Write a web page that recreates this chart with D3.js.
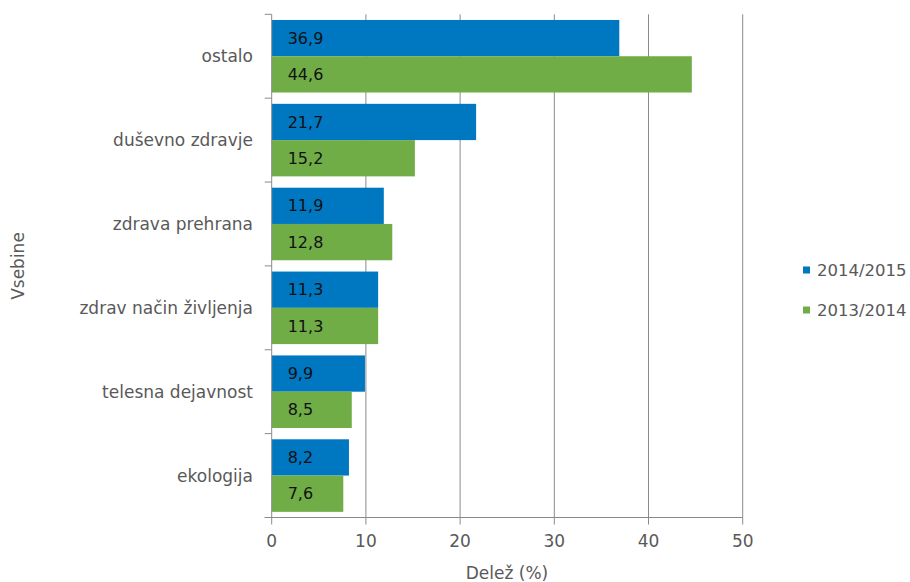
<!DOCTYPE html>
<html><head><meta charset="utf-8">
<script src="https://cdn.jsdelivr.net/npm/d3@7"></script>
<style>body{margin:0;background:#fff;} svg{display:block;font-family:"DejaVu Sans",sans-serif;}</style>
</head><body><svg id="c" width="910" height="582"></svg>
<script>
const categories = ["ostalo","duševno zdravje","zdrava prehrana","zdrav način življenja","telesna dejavnost","ekologija"];
const series = ["2014/2015","2013/2014"];
const values2014_2015 = [36.9,21.7,11.9,11.3,9.9,8.2];
const values2013_2014 = [44.6,15.2,12.8,11.3,8.5,7.6];
const xTicks = [0,10,20,30,40,50];
const colors = ["#0077C1","#70AD47"];
const fmt = v => String(v.toFixed(1)).replace(".", ",");

const svg = d3.select("#c");
const L = 271.7, R = 742.7, T = 14.3, B = 517.5;
const x = d3.scaleLinear().domain([0,50]).range([L,R]);
const y = d3.scaleBand().domain(categories).range([T,B]).paddingInner(0.135).paddingOuter(0.0675);
const ySub = d3.scaleBand().domain(series).range([0,y.bandwidth()]);
const grid = "#8A8A8A";

// gridlines
svg.append("g").selectAll("line").data(xTicks.slice(1)).join("line")
  .attr("x1",d=>x(d)).attr("x2",d=>x(d)).attr("y1",T).attr("y2",B)
  .attr("stroke",grid).attr("stroke-width",1);

const data = [values2014_2015, values2013_2014];
categories.forEach((c,i)=>{
  series.forEach((s,j)=>{
    const v = data[j][i];
    svg.append("rect").attr("x",x(0)).attr("y",y(c)+ySub(s))
      .attr("width",x(v)-x(0)).attr("height",ySub.bandwidth()).attr("fill",colors[j]);
    svg.append("text").attr("x",x(0)+16).attr("y",y(c)+ySub(s)+ySub.bandwidth()/2)
      .attr("dy","0.35em").attr("font-size",16).attr("fill","#111").text(fmt(v));
  });
});

// left axis
const bounds = d3.range(categories.length+1).map(i=>T+i*(B-T)/categories.length);
svg.append("line").attr("x1",L).attr("x2",L).attr("y1",T).attr("y2",B).attr("stroke",grid);
svg.append("g").selectAll("line").data(bounds).join("line")
  .attr("x1",L-7).attr("x2",L).attr("y1",d=>d).attr("y2",d=>d).attr("stroke",grid);
svg.append("g").selectAll("text").data(categories).join("text")
  .attr("x",253).attr("y",(d,i)=>(bounds[i]+bounds[i+1])/2).attr("dy","0.35em")
  .attr("text-anchor","end").attr("font-size",17).attr("fill","#595959").text(d=>d);

// bottom axis
svg.append("line").attr("x1",L-7).attr("x2",R).attr("y1",B).attr("y2",B).attr("stroke",grid);
svg.append("g").selectAll("line").data(xTicks).join("line")
  .attr("x1",d=>x(d)).attr("x2",d=>x(d)).attr("y1",B).attr("y2",B+7).attr("stroke",grid);
svg.append("g").selectAll("text").data(xTicks).join("text")
  .attr("x",d=>x(d)).attr("y",541).attr("dy","0.35em").attr("text-anchor","middle")
  .attr("font-size",17).attr("fill","#595959").text(d=>d);

svg.append("text").attr("x",507).attr("y",573).attr("dy","0.35em").attr("text-anchor","middle")
  .attr("font-size",17).attr("fill","#595959").text("Delež (%)");
svg.append("text").attr("transform","translate(18,266) rotate(-90)").attr("dy","0.35em")
  .attr("text-anchor","middle").attr("font-size",17).attr("fill","#595959").text("Vsebine");

// legend
series.forEach((s,j)=>{
  const ly = 270 + j*40;
  svg.append("rect").attr("x",803).attr("y",ly-3.5).attr("width",7).attr("height",7).attr("fill",colors[j]);
  svg.append("text").attr("x",817).attr("y",ly).attr("dy","0.35em").attr("font-size",16.5)
    .attr("fill","#595959").text(s);
});
</script></body></html>
